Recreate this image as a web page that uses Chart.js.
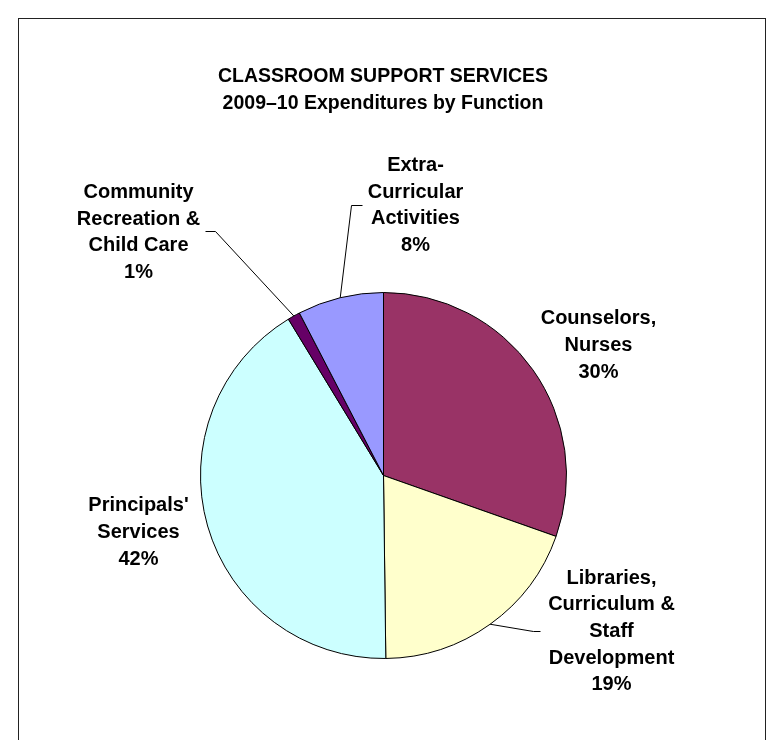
<!DOCTYPE html>
<html><head><meta charset="utf-8">
<script src="https://cdn.jsdelivr.net/npm/chart.js@4/dist/chart.umd.min.js"></script>
<style>
html,body{margin:0;padding:0;background:#fff;overflow:hidden;}
#wrap{position:relative;width:783px;height:740px;}
#frame{position:absolute;left:18px;top:18px;width:748px;height:800px;border:1px solid #222;box-sizing:border-box;}
canvas{position:absolute;left:0;top:0;}
</style></head><body>
<div id="wrap"><div id="frame"></div><canvas id="c" width="783" height="740"></canvas></div>
<script>
// ---- data ----
const categories = [
  ["Counselors,", "Nurses"],
  ["Libraries,", "Curriculum &", "Staff", "Development"],
  ["Principals'", "Services"],
  ["Community", "Recreation &", "Child Care"],
  ["Extra-", "Curricular", "Activities"]
];
const values = [30.4, 19.4, 41.5, 1.1, 7.6];
const percentLabels = ["30%", "19%", "42%", "1%", "8%"];
const colors = ["#993366", "#FFFFCC", "#CCFFFF", "#660066", "#9999FF"];
const titleLines = ["CLASSROOM SUPPORT SERVICES", "2009–10 Expenditures by Function"];

// ---- label placement (style) relative to pie centre ----
const labelStyle = [
  { dx: 215, dy: -130, leader: null },
  { dx: 228, dy: 156, leader: { ex: 150, ey: 156, hx: 157 } },
  { dx: -245, dy: 57, leader: null },
  { dx: -245, dy: -243, leader: { ex: -168, ey: -244, hx: -178 } },
  { dx: 32, dy: -270, leader: { ex: -32, ey: -270, hx: -21 } }
];
const FONT = '"Liberation Sans", Arial, Helvetica, sans-serif';

const labelPlugin = {
  id: 'pieLabels',
  afterDatasetsDraw(chart) {
    const ctx = chart.ctx;
    const meta = chart.getDatasetMeta(0);
    ctx.save();
    // title
    ctx.fillStyle = '#000';
    ctx.textAlign = 'center';
    ctx.textBaseline = 'middle';
    ctx.font = 'bold 19.5px ' + FONT;
    titleLines.forEach((t, i) => ctx.fillText(t, 383, 77 + i * 27));
    // slice labels
    ctx.font = 'bold 20px ' + FONT;
    const lh = 26.7;
    meta.data.forEach((arc, i) => {
      const p = arc.getProps(['x', 'y', 'startAngle', 'endAngle', 'outerRadius'], true);
      const st = labelStyle[i];
      const lines = categories[i].concat([percentLabels[i]]);
      const bx = p.x + st.dx, by = p.y + st.dy;
      const y0 = by - (lines.length - 1) * lh / 2;
      ctx.fillStyle = '#000';
      lines.forEach((l, k) => ctx.fillText(l, bx, y0 + k * lh));
      if (st.leader) {
        const mid = (p.startAngle + p.endAngle) / 2;
        const sx = p.x + Math.cos(mid) * p.outerRadius;
        const sy = p.y + Math.sin(mid) * p.outerRadius;
        ctx.strokeStyle = '#000';
        ctx.lineWidth = 1;
        ctx.beginPath();
        ctx.moveTo(sx, sy);
        ctx.lineTo(p.x + st.leader.ex, p.y + st.leader.ey);
        ctx.lineTo(p.x + st.leader.hx, p.y + st.leader.ey);
        ctx.stroke();
      }
    });
    ctx.restore();
  }
};

new Chart(document.getElementById('c'), {
  type: 'pie',
  data: {
    labels: categories.map(c => c.join(' ')),
    datasets: [{
      data: values,
      backgroundColor: colors,
      borderColor: '#000',
      borderWidth: 1
    }]
  },
  options: {
    responsive: false,
    animation: false,
    layout: { padding: { left: 200, right: 216, top: 292, bottom: 81 } },
    plugins: { legend: { display: false }, tooltip: { enabled: false }, title: { display: false } }
  },
  plugins: [labelPlugin]
});
</script>
</body></html>
